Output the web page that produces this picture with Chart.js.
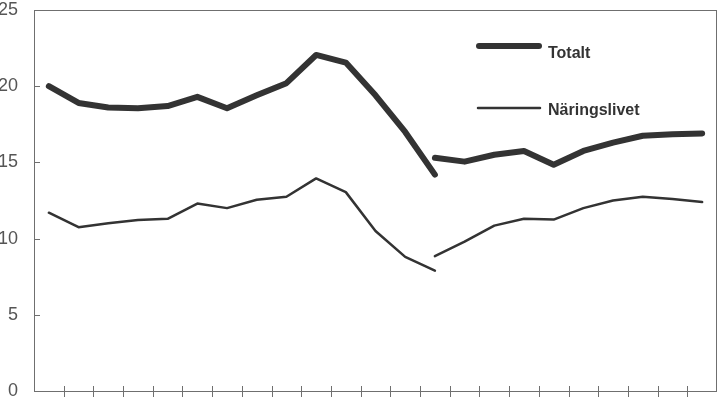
<!DOCTYPE html>
<html>
<head>
<meta charset="utf-8">
<script src="https://cdn.jsdelivr.net/npm/chart.js@4/dist/chart.umd.min.js"></script>
<style>
  html, body { margin: 0; padding: 0; background: #fff; overflow: hidden; }
  canvas { display: block; }
</style>
</head>
<body>
<canvas id="chart" width="719" height="399"></canvas>
<script>
// periods on the x axis (unlabelled in the original)
const periods = Array.from({ length: 23 }, (_, i) => String(i + 1));
const breakIndex = 13; // series definition changes here, both parts share this period

// Totalt, before and after the break
const totaltBefore = [20.0, 18.9, 18.6, 18.55, 18.7, 19.3, 18.55, 19.4, 20.2, 22.05, 21.55, 19.4, 17.0, 14.2];
const totaltAfter = [15.3, 15.05, 15.5, 15.75, 14.85, 15.75, 16.3, 16.75, 16.85, 16.9];

// Näringslivet, before and after the break
const naringBefore = [11.7, 10.75, 11.0, 11.22, 11.3, 12.3, 12.0, 12.55, 12.75, 13.95, 13.05, 10.5, 8.8, 7.9];
const naringAfter = [8.85, 9.8, 10.85, 11.3, 11.25, 12.0, 12.5, 12.75, 12.6, 12.4];

const yTicks = [0, 5, 10, 15, 20, 25];

const INK = '#333';
const AXIS = '#6f6f6f';

function before(arr) {
    return periods.map((_, i) => (i < arr.length ? arr[i] : null));
}
function after(arr) {
    return periods.map((_, i) => (i >= breakIndex ? arr[i - breakIndex] : null));
}

function lineSet(label, data, width) {
    return {
        label, data,
        borderColor: INK,
        borderWidth: width,
        borderCapStyle: 'round',
        borderJoinStyle: 'round',
        pointRadius: 0,
        tension: 0,
        spanGaps: false,
        fill: false
    };
}

// 🖊️ frame, tick marks and the in-plot legend
const decor = {
    id: 'decor',
    afterDraw(chart) {
        const { ctx, chartArea: a, scales: { x, y } } = chart;
        ctx.save();
        ctx.strokeStyle = AXIS;
        ctx.lineWidth = 1;
        ctx.strokeRect(Math.round(a.left) + 0.5, Math.round(a.top) + 0.5,
            Math.round(a.right - a.left) - 1, Math.round(a.bottom - a.top));

        ctx.beginPath();
        for (let k = 1; k < periods.length; k++) {
            const px = Math.round((x.getPixelForValue(k - 1) + x.getPixelForValue(k)) / 2) + 0.5;
            ctx.moveTo(px, a.bottom - 5);
            ctx.lineTo(px, a.bottom + 6);
        }
        yTicks.slice(1, -1).forEach(v => {
            const py = Math.round(y.getPixelForValue(v)) + 0.5;
            ctx.moveTo(a.left, py);
            ctx.lineTo(a.left + 6, py);
        });
        ctx.stroke();

        // legend
        ctx.strokeStyle = INK;
        ctx.lineCap = 'round';
        ctx.lineWidth = 6;
        ctx.beginPath(); ctx.moveTo(479, 46); ctx.lineTo(539, 46); ctx.stroke();
        ctx.lineWidth = 2.5;
        ctx.beginPath(); ctx.moveTo(478, 108); ctx.lineTo(540, 108); ctx.stroke();

        ctx.fillStyle = INK;
        ctx.font = 'bold 16px "Liberation Sans", Arial, sans-serif';
        ctx.textBaseline = 'alphabetic';
        ctx.textAlign = 'left';
        ctx.fillText('Totalt', 548, 58);
        ctx.fillText('Näringslivet', 548, 115);
        ctx.restore();
    }
};

new Chart(document.getElementById('chart'), {
    type: 'line',
    data: {
        labels: periods,
        datasets: [
            lineSet('Totalt', before(totaltBefore), 6),
            lineSet('Totalt', after(totaltAfter), 6),
            lineSet('Näringslivet', before(naringBefore), 2.5),
            lineSet('Näringslivet', after(naringAfter), 2.5)
        ]
    },
    options: {
        responsive: false,
        devicePixelRatio: 1,
        animation: false,
        layout: { padding: { top: 10, right: 2, left: 0, bottom: 0 } },
        plugins: { legend: { display: false }, tooltip: { enabled: false } },
        scales: {
            x: {
                type: 'category',
                offset: true,
                grid: { display: false, drawTicks: false },
                border: { display: false },
                ticks: { display: false },
                afterFit: s => { s.height = 8; s.paddingLeft = 0; s.paddingRight = 0; }
            },
            y: {
                min: 0,
                max: 25,
                afterBuildTicks: s => { s.ticks = yTicks.map(v => ({ value: v })); },
                ticks: {
                    padding: 16,
                    color: '#555',
                    font: { family: '"Liberation Sans Narrow", "Liberation Sans", sans-serif', size: 18 }
                },
                grid: { display: false, drawTicks: false },
                border: { display: false },
                afterFit: s => { s.width = 34; s.paddingTop = 0; s.paddingBottom = 0; }
            }
        }
    },
    plugins: [decor]
});
</script>
</body>
</html>
